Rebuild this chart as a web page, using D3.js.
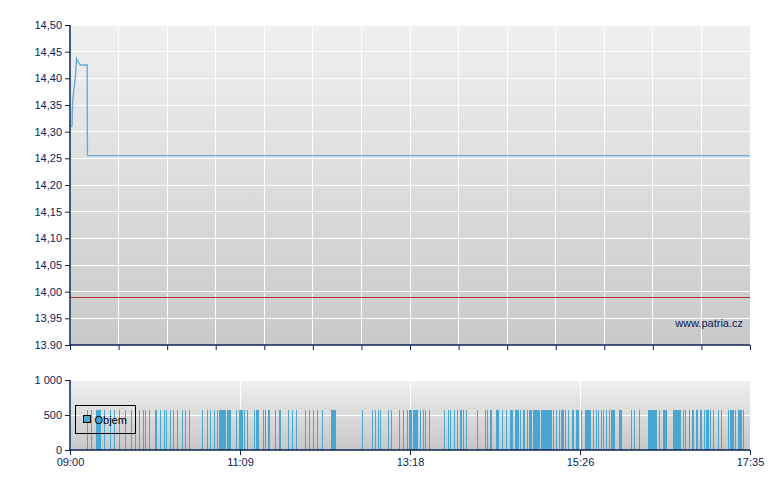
<!DOCTYPE html>
<html>
<head>
<meta charset="utf-8">
<script src="https://cdn.jsdelivr.net/npm/d3@7"></script>
<style>
  body { margin: 0; background: #fff; }
  svg { font-family: Arial, "Liberation Sans", sans-serif; }
</style>
</head>
<body>
<svg id="mysvg" width="780" height="490"></svg>
<script>
// minutes after 09:00 for the intraday price line
var priceTimes  = [0, 1.5, 2, 3, 4, 5, 6, 7, 8, 13, 13.2, 515];
var priceValues = [14.31, 14.31, 14.355, 14.38, 14.40, 14.437, 14.432, 14.428, 14.425, 14.425, 14.255, 14.255];
var refPrice = 13.99;

var priceTicks = [13.90, 13.95, 14.00, 14.05, 14.10, 14.15, 14.20, 14.25, 14.30, 14.35, 14.40, 14.45, 14.50];
var priceTickLabels = ["13.90", "13,95", "14,00", "14,05", "14,10", "14,15", "14,20", "14,25", "14,30", "14,35", "14,40", "14,45", "14,50"];

var volTicks = [0, 500, 1000];
var volTickLabels = ["0", "500", "1 000"];

var timeTicks = [0, 128.75, 257.5, 386.25, 515];
var timeLabels = ["09:00", "11:09", "13:18", "15:26", "17:35"];

// volume: [first minute, last minute, volume]
var volRanges = [
  [13,13,570],[16,16,570],[20,23,570],[26,26,570],[30,30,570],[33,33,570],[37,37,570],[42,42,570],
  [46,46,570],[49,49,570],[52,52,570],[55,55,570],[57,57,570],[60,60,570],[64,65,570],[68,68,570],
  [71,71,570],[73,73,570],[76,76,570],[78,78,570],[81,81,570],[85,85,570],[87,87,570],[90,90,570],
  [100,100,570],[104,104,570],[106,106,570],[109,109,570],[111,111,570],[113,117,570],[119,121,570],
  [126,126,570],[128,130,570],[132,132,570],[134,134,570],[139,139,570],[141,142,570],[146,146,570],
  [148,148,570],[150,151,570],[155,155,570],[158,159,570],[165,165,570],[168,168,570],[171,171,570],
  [178,178,570],[181,181,570],[184,184,570],[187,187,570],[191,191,570],[198,201,570],
  [221,221,570],[229,229,570],[231,231,570],[233,233,570],[235,235,570],[241,241,570],[243,243,570],
  [249,249,570],[252,252,570],[255,255,570],[257,258,570],[260,263,570],[265,265,570],[267,267,570],
  [269,269,570],[272,272,570],[283,283,570],[286,286,570],[288,288,570],[291,291,570],[293,293,570],
  [295,296,570],[298,298,570],[300,300,570],[308,308,570],
  [314,314,570],[316,316,570],[318,319,570],[323,324,570],[327,327,570],[330,330,570],[333,335,570],
  [337,339,570],[341,341,570],[343,344,570],[346,346,570],[348,349,570],[351,355,570],[357,364,570],
  [366,366,570],[368,368,570],[370,370,570],[372,373,570],[375,375,570],[377,377,570],[380,381,570],
  [383,385,570],[387,387,570],[390,394,570],[396,396,570],[398,398,570],[400,400,570],[402,402,570],
  [404,404,570],[406,406,570],[408,408,570],[410,412,570],[416,417,570],[425,425,570],[427,427,570],
  [431,431,570],[438,444,570],[446,446,570],[449,451,570],[457,462,570],[464,464,570],[466,466,570],
  [469,469,570],[471,472,570],[474,475,570],[477,478,570],[480,480,570],[482,483,570],[485,485,570],
  [487,487,570],[491,491,570],[493,493,570],[498,498,570],[500,502,570],[504,504,570],[506,508,570],
  [510,510,570]
];

var navy = "#0b2257";
var svg = d3.select("#mysvg");
var left = 70, right = 750;

var x = d3.scaleLinear().domain([0, 515]).range([left, right]);
var y = d3.scaleLinear().domain([13.90, 14.50]).range([345, 25]);
var yv = d3.scaleLinear().domain([0, 1000]).range([450, 380]);

var defs = svg.append("defs");
function grad(id, c1, c2) {
  var g = defs.append("linearGradient").attr("id", id)
    .attr("x1", 0).attr("y1", 0).attr("x2", 0).attr("y2", 1);
  g.append("stop").attr("offset", "0%").attr("stop-color", c1);
  g.append("stop").attr("offset", "100%").attr("stop-color", c2);
}
grad("bgTop", "#f0f0f0", "#c9c9c9");
grad("bgBot", "#efefef", "#c7c7c7");

// ---- upper price panel
svg.append("rect").attr("x", left).attr("y", y(14.50))
  .attr("width", right - left).attr("height", y(13.90) - y(14.50))
  .attr("fill", "url(#bgTop)");

var upperX = d3.range(15).map(function(i) { return i * 515 / 14; });

var gridTop = svg.append("g").attr("stroke", "#fff").attr("stroke-width", 1)
  .attr("shape-rendering", "crispEdges");
gridTop.selectAll("line.h").data(priceTicks).enter().append("line")
  .attr("x1", left).attr("x2", right)
  .attr("y1", function(d) { return y(d); }).attr("y2", function(d) { return y(d); });
gridTop.selectAll("line.v").data(upperX).enter().append("line")
  .attr("x1", function(d) { return x(d); }).attr("x2", function(d) { return x(d); })
  .attr("y1", y(14.50)).attr("y2", y(13.90));

svg.append("line").attr("x1", left).attr("x2", right)
  .attr("y1", y(refPrice)).attr("y2", y(refPrice))
  .attr("stroke", "#b8312f").attr("stroke-width", 1).attr("shape-rendering", "crispEdges");

var line = d3.line()
  .x(function(d, i) { return x(priceTimes[i]); })
  .y(function(d) { return y(d); });
svg.append("path").datum(priceValues)
  .attr("d", line).attr("fill", "none")
  .attr("stroke", "#62aed6").attr("stroke-width", 1.4);

var yAxis = d3.axisLeft(y).tickValues(priceTicks).tickSize(5).tickPadding(3)
  .tickFormat(function(d, i) { return priceTickLabels[i]; });
var gy = svg.append("g").attr("transform", "translate(" + left + ",0)").call(yAxis);

var xAxisTop = d3.axisBottom(x).tickValues(upperX).tickSize(5).tickFormat("");
var gxt = svg.append("g").attr("transform", "translate(0," + y(13.90) + ")").call(xAxisTop);

svg.append("text").attr("x", 743).attr("y", 327)
  .attr("text-anchor", "end").attr("font-size", 11).attr("fill", navy)
  .text("www.patria.cz");

// ---- lower volume panel
svg.append("rect").attr("x", left).attr("y", yv(1000))
  .attr("width", right - left).attr("height", yv(0) - yv(1000))
  .attr("fill", "url(#bgBot)");

var gridBot = svg.append("g").attr("stroke", "#fff").attr("stroke-width", 1)
  .attr("shape-rendering", "crispEdges");
gridBot.selectAll("line.h").data(volTicks).enter().append("line")
  .attr("x1", left).attr("x2", right)
  .attr("y1", function(d) { return yv(d); }).attr("y2", function(d) { return yv(d); });
gridBot.selectAll("line.v").data(timeTicks).enter().append("line")
  .attr("x1", function(d) { return x(d); }).attr("x2", function(d) { return x(d); })
  .attr("y1", yv(1000)).attr("y2", yv(0));

svg.append("g").attr("shape-rendering", "crispEdges")
  .selectAll("rect").data(volRanges).enter().append("rect")
  .attr("x", function(d) { return x(d[0]); })
  .attr("width", function(d) { return Math.max(1, x(d[1] + 1) - x(d[0]) - 0.3); })
  .attr("y", function(d) { return yv(d[2]); })
  .attr("height", function(d) { return yv(0) - yv(d[2]); })
  .attr("fill", "#48a7d0");

var yvAxis = d3.axisLeft(yv).tickValues(volTicks).tickSize(5).tickPadding(3)
  .tickFormat(function(d, i) { return volTickLabels[i]; });
var gyv = svg.append("g").attr("transform", "translate(" + left + ",0)").call(yvAxis);

var xAxis = d3.axisBottom(x).tickValues(timeTicks).tickSize(5).tickPadding(3)
  .tickFormat(function(d, i) { return timeLabels[i]; });
var gx = svg.append("g").attr("transform", "translate(0," + yv(0) + ")").call(xAxis);

[gy, gxt, gyv, gx].forEach(function(g) {
  g.selectAll("path").attr("stroke", navy).attr("stroke-width", 1.5);
  g.selectAll("line").attr("stroke", navy);
  g.selectAll("text").attr("fill", navy).attr("font-size", 11)
    .attr("font-family", "Arial, 'Liberation Sans', sans-serif");
});
// axis domains without outer ticks
gy.select(".domain").attr("d", "M0," + y(14.50) + "V" + y(13.90));
gyv.select(".domain").attr("d", "M0," + yv(1000) + "V" + yv(0));
gxt.select(".domain").attr("d", "M" + left + ",0H" + right);
gx.select(".domain").attr("d", "M" + left + ",0H" + right);

// legend
var legend = svg.append("g").attr("transform", "translate(75.5,405.5)");
legend.append("rect").attr("width", 60).attr("height", 28)
  .attr("fill", "none").attr("stroke", "#000");
legend.append("rect").attr("x", 8).attr("y", 10).attr("width", 7).attr("height", 7)
  .attr("fill", "#48a7d0").attr("stroke", "#000");
legend.append("text").attr("x", 19).attr("y", 18).attr("font-size", 11)
  .attr("fill", "#000").text("Objem");
</script>
</body>
</html>
